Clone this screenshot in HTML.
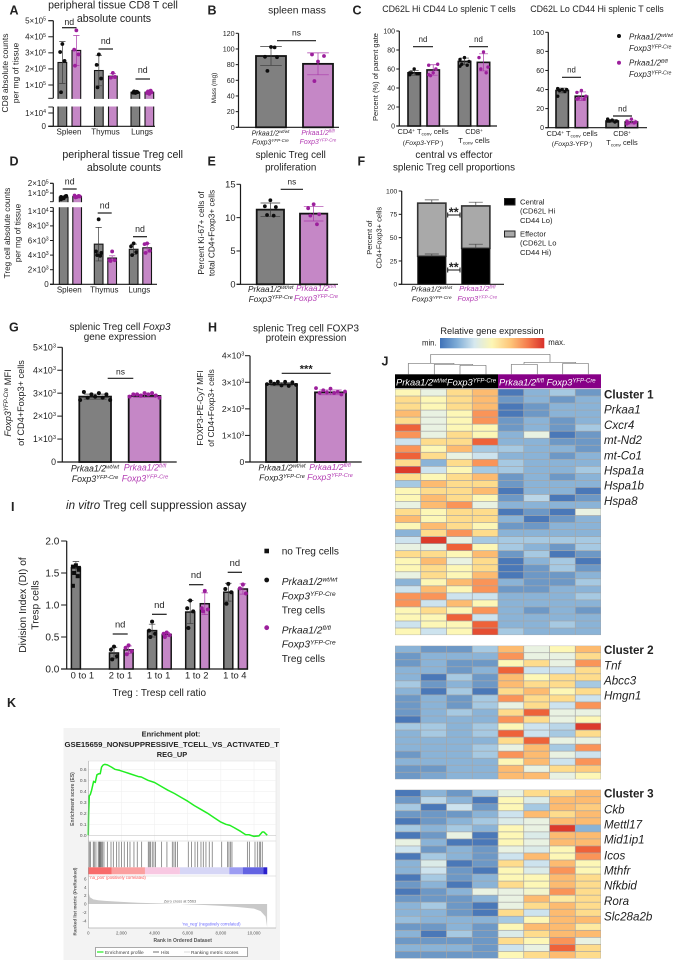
<!DOCTYPE html>
<html lang="en">
<head>
<meta charset="utf-8">
<title>Multi-panel Treg figure</title>
<style>
html,body{margin:0;padding:0;background:#fff}
#fig{position:absolute;left:0;top:0;width:674px;height:960px;overflow:hidden}
svg{display:block;filter:blur(.25px)}
text{font-family:"Liberation Sans",Arial,sans-serif;fill:#222}
.m{text-anchor:middle}
.i{font-style:italic}
.k{fill:#b23ab2}
.b{font-weight:bold}
.L{font-weight:bold;font-size:12.5px;fill:#222}
.g{font-style:italic;font-size:11.6px}
</style>
</head>
<body>
<div id="fig">
<svg width="674" height="960" viewBox="0 0 674 960" xmlns="http://www.w3.org/2000/svg">

<!-- PANEL A -->
<g id="panelA">
<text class="L" x="9.5" y="14.5">A</text>
<text class="m" x="113" y="8.5" font-size="10.6">peripheral tissue CD8 T cell</text>
<text class="m" x="114" y="22" font-size="10.6">absolute counts</text>
<text class="m" transform="translate(8,73) rotate(-90)" font-size="8.5">CD8 absolute counts</text>
<text class="m" transform="translate(18.5,73) rotate(-90)" font-size="8.5">per mg of tissue</text>
</g>

<!-- PANEL B -->
<g id="panelB">
<text class="L" x="207.5" y="14.5">B</text>
<text class="m" x="297" y="13.5" font-size="10.3">spleen mass</text>
<text class="m" transform="translate(216,88) rotate(-90)" font-size="6.5">Mass (mg)</text>
<text class="i m" x="270.5" y="135.5" font-size="6.9">Prkaa1/2<tspan dy="-2.4" font-size="4.5">wt/wt</tspan></text>
<text class="i m" x="270.5" y="144.5" font-size="6.9">Foxp3<tspan dy="-2.4" font-size="4.5">YFP-Cre</tspan></text>
<text class="i m k" x="318" y="135" font-size="6.9">Prkaa1/2<tspan dy="-2.4" font-size="4.5">fl/fl</tspan></text>
<text class="i m k" x="318" y="144" font-size="6.9">Foxp3<tspan dy="-2.4" font-size="4.5">YFP-Cre</tspan></text>
</g>

<!-- PANEL C -->
<g id="panelC1">
<text class="L" x="352.5" y="14.5">C</text>
<text class="m" x="449" y="12" font-size="8.9">CD62L Hi CD44 Lo splenic T cells</text>
<text class="m" transform="translate(378,77) rotate(-90)" font-size="7.5">Percent (%) of parent gate</text>
<text class="m" x="423" y="134" font-size="7.4">CD4<tspan dy="-2.2" font-size="4.8">+</tspan><tspan dy="2.2"> T</tspan><tspan dy="1.3" font-size="4.8">conv</tspan><tspan dy="-1.3"> cells</tspan></text>
<text class="m" x="423" y="145" font-size="6.8">(<tspan class="i">Foxp3</tspan>-YFP<tspan dy="-2" font-size="4.5">-</tspan><tspan dy="2">)</tspan></text>
<text class="m" x="474" y="134" font-size="7.4">CD8<tspan dy="-2.2" font-size="4.8">+</tspan></text>
<text class="m" x="474" y="143" font-size="7.4">T<tspan dy="1.3" font-size="4.8">conv</tspan><tspan dy="-1.3"> cells</tspan></text>
</g>
<g id="panelC2">
<text class="m" x="597" y="12" font-size="8.9">CD62L Lo CD44 Hi splenic T cells</text>
<text class="m" x="572" y="136" font-size="7.4">CD4<tspan dy="-2.2" font-size="4.8">+</tspan><tspan dy="2.2"> T</tspan><tspan dy="1.3" font-size="4.8">conv</tspan><tspan dy="-1.3"> cells</tspan></text>
<text class="m" x="572" y="146" font-size="6.8">(<tspan class="i">Foxp3</tspan>-YFP<tspan dy="-2" font-size="4.5">-</tspan><tspan dy="2">)</tspan></text>
<text class="m" x="622" y="136" font-size="7.4">CD8<tspan dy="-2.2" font-size="4.8">+</tspan></text>
<text class="m" x="622" y="145" font-size="7.4">T<tspan dy="1.3" font-size="4.8">conv</tspan><tspan dy="-1.3"> cells</tspan></text>
<circle cx="619" cy="36" r="2" fill="#111"/>
<text class="i" x="629" y="39.5" font-size="8">Prkaa1/2<tspan dy="-2.6" font-size="5.2">wt/wt</tspan></text>
<text class="i" x="629" y="51" font-size="8">Foxp3<tspan dy="-2.6" font-size="5.2">YFP-Cre</tspan></text>
<circle cx="619" cy="62.7" r="2" fill="#9c1f9c"/>
<text class="i" x="629" y="65.5" font-size="8">Prkaa1/2<tspan dy="-2.6" font-size="5.2">fl/fl</tspan></text>
<text class="i" x="629" y="77" font-size="8">Foxp3<tspan dy="-2.6" font-size="5.2">YFP-Cre</tspan></text>
</g>

<!-- PANEL D -->
<g id="panelD">
<text class="L" x="9.5" y="165.5">D</text>
<text class="m" x="122.7" y="158" font-size="10.6">peripheral tissue Treg cell</text>
<text class="m" x="124" y="171" font-size="10.6">absolute counts</text>
<text class="m" transform="translate(10,233) rotate(-90)" font-size="8.2">Treg cell absolute counts</text>
<text class="m" transform="translate(20.5,233) rotate(-90)" font-size="8.2">per mg of tissue</text>
</g>

<!-- PANEL E -->
<g id="panelE">
<text class="L" x="207.5" y="165.5">E</text>
<text class="m" x="290.7" y="158" font-size="9.8">splenic Treg cell</text>
<text class="m" x="290.7" y="170.5" font-size="9.8">proliferation</text>
<text class="m" transform="translate(204,233) rotate(-90)" font-size="8.3">Percent Ki-67+ cells of</text>
<text class="m" transform="translate(214.5,233) rotate(-90)" font-size="8.3">total CD4+Foxp3+ cells</text>
<text class="i m" x="270.7" y="292" font-size="8.3">Prkaa1/2<tspan dy="-2.8" font-size="5.4">wt/wt</tspan></text>
<text class="i m" x="270.7" y="302" font-size="8.3">Foxp3<tspan dy="-2.8" font-size="5.4">YFP-Cre</tspan></text>
<text class="i m k" x="316" y="291" font-size="8.3">Prkaa1/2<tspan dy="-2.8" font-size="5.4">fl/fl</tspan></text>
<text class="i m k" x="316" y="301" font-size="8.3">Foxp3<tspan dy="-2.8" font-size="5.4">YFP-Cre</tspan></text>
</g>

<!-- PANEL F -->
<g id="panelF">
<text class="L" x="357.5" y="165.5">F</text>
<text class="m" x="454" y="158" font-size="9.8">central vs effector</text>
<text class="m" x="454" y="170.5" font-size="9.8">splenic Treg cell proportions</text>
<text class="m" transform="translate(372,237.7) rotate(-90)" font-size="7.5">Percent of</text>
<text class="m" transform="translate(381.5,237.7) rotate(-90)" font-size="7.5">CD4+Foxp3+ cells</text>
<text class="i m" x="431.7" y="291.5" font-size="7.5">Prkaa1/2<tspan dy="-2.6" font-size="4.9">wt/wt</tspan></text>
<text class="i m" x="431.7" y="301.5" font-size="7.5">Foxp3<tspan dy="-2.6" font-size="4.9">YFP-Cre</tspan></text>
<text class="i m k" x="477.3" y="291" font-size="7.5">Prkaa1/2<tspan dy="-2.6" font-size="4.9">fl/fl</tspan></text>
<text class="i m k" x="477.3" y="301" font-size="7.5">Foxp3<tspan dy="-2.6" font-size="4.9">YFP-Cre</tspan></text>
<rect x="504.5" y="198.5" width="10.5" height="6.5" fill="#000" stroke="#222" stroke-width="1"/>
<text x="520" y="204.3" font-size="7.6">Central</text>
<text x="520" y="213.7" font-size="7.6">(CD62L Hi</text>
<text x="520" y="223" font-size="7.6">CD44 Lo)</text>
<rect x="504.5" y="231" width="10.5" height="6" fill="#a9a9a9" stroke="#222" stroke-width="1"/>
<text x="520" y="236.3" font-size="7.6">Effector</text>
<text x="520" y="245.7" font-size="7.6">(CD62L Lo</text>
<text x="520" y="255" font-size="7.6">CD44 Hi)</text>
</g>

<!-- PANEL G -->
<g id="panelG">
<text class="L" x="9" y="331.5">G</text>
<text class="m" x="120" y="330" font-size="9.9">splenic Treg cell <tspan class="i">Foxp3</tspan></text>
<text class="m" x="120" y="340" font-size="9.9">gene expression</text>
<text class="m i" transform="translate(11,403) rotate(-90)" font-size="9.2">Foxp3<tspan dy="-3" font-size="6">YFP-Cre</tspan><tspan dy="3" font-style="normal"> MFI</tspan></text>
<text class="m" transform="translate(24,403) rotate(-90)" font-size="9.2">of CD4+Foxp3+ cells</text>
<text class="i m" x="95" y="471.5" font-size="8.8">Prkaa1/2<tspan dy="-3" font-size="5.7">wt/wt</tspan></text>
<text class="i m" x="95" y="482" font-size="8.8">Foxp3<tspan dy="-3" font-size="5.7">YFP-Cre</tspan></text>
<text class="i m k" x="145" y="470.5" font-size="8.8">Prkaa1/2<tspan dy="-3" font-size="5.7">fl/fl</tspan></text>
<text class="i m k" x="145" y="481.5" font-size="8.8">Foxp3<tspan dy="-3" font-size="5.7">YFP-Cre</tspan></text>
</g>

<!-- PANEL H -->
<g id="panelH">
<text class="L" x="208" y="331.5">H</text>
<text class="m" x="306" y="331.5" font-size="9.9">splenic Treg cell FOXP3</text>
<text class="m" x="306" y="341" font-size="9.9">protein expression</text>
<text class="m" transform="translate(203,408) rotate(-90)" font-size="8.3">FOXP3-PE-Cy7 MFI</text>
<text class="m" transform="translate(214,408) rotate(-90)" font-size="8.3">of CD4+Foxp3+ cells</text>
<text class="i m" x="282" y="470.5" font-size="8.6">Prkaa1/2<tspan dy="-2.9" font-size="5.6">wt/wt</tspan></text>
<text class="i m" x="282" y="480.7" font-size="8.6">Foxp3<tspan dy="-2.9" font-size="5.6">YFP-Cre</tspan></text>
<text class="i m k" x="330" y="470" font-size="8.6">Prkaa1/2<tspan dy="-2.9" font-size="5.6">fl/fl</tspan></text>
<text class="i m k" x="330" y="480" font-size="8.6">Foxp3<tspan dy="-2.9" font-size="5.6">YFP-Cre</tspan></text>
</g>

<!-- PANEL I -->
<g id="panelI">
<text class="L" x="11" y="511">I</text>
<text x="66" y="509" font-size="11.6"><tspan class="i">in vitro</tspan> Treg cell suppression assay</text>
<text class="m" transform="translate(26,605) rotate(-90)" font-size="10.3">Division Index (DI) of</text>
<text class="m" transform="translate(38.5,605) rotate(-90)" font-size="10.3">Tresp cells</text>
<text class="m" x="159.3" y="696" font-size="10">Treg : Tresp cell ratio</text>
<rect x="264.4" y="548.7" width="4.6" height="4.6" fill="#111"/>
<text x="281.7" y="554.5" font-size="10.1">no Treg cells</text>
<circle cx="266.7" cy="580" r="2.4" fill="#111"/>
<text class="i" x="281.7" y="585" font-size="10.2">Prkaa1/2<tspan dy="-3.4" font-size="6.6">wt/wt</tspan></text>
<text class="i" x="281.7" y="599.3" font-size="10.2">Foxp3<tspan dy="-3.4" font-size="6.6">YFP-Cre</tspan></text>
<text x="281.7" y="613.5" font-size="10.1">Treg cells</text>
<circle cx="266.7" cy="627.7" r="2.4" fill="#9c1f9c"/>
<text class="i" x="281.7" y="633.3" font-size="10.2">Prkaa1/2<tspan dy="-3.4" font-size="6.6">fl/fl</tspan></text>
<text class="i" x="281.7" y="647.7" font-size="10.2">Foxp3<tspan dy="-3.4" font-size="6.6">YFP-Cre</tspan></text>
<text x="281.7" y="661.8" font-size="10.1">Treg cells</text>
</g>

<!-- PANEL K -->
<g id="panelK">
<text class="L" x="7" y="707">K</text>
<rect x="63.5" y="728" width="216.5" height="232" fill="#f3f3f3"/>
<text class="b m" x="171" y="736.5" font-size="7.4">Enrichment plot:</text>
<text class="b" x="64.5" y="747" font-size="7.4" textLength="214.5" lengthAdjust="spacingAndGlyphs">GSE15659_NONSUPPRESSIVE_TCELL_VS_ACTIVATED_T</text>
<text class="b m" x="172" y="757" font-size="7.4">REG_UP</text>
<rect x="88.3" y="761" width="187.7" height="167" fill="#fff" stroke="#ddd" stroke-width=".5"/>
<text class="m b" transform="translate(74,799) rotate(-90)" font-size="5" fill="#555" style="fill:#555">Enrichment score (ES)</text>
<text class="m b" transform="translate(76.5,901.5) rotate(-90)" font-size="4.6" style="fill:#555">Ranked list metric (PreRanked)</text>
<text class="m b" x="182.7" y="942" font-size="5" style="fill:#555">Rank in Ordered Dataset</text>
<text class="m" x="180" y="902.4" font-size="3.9" style="fill:#666">Zero cross at 5563</text>
<text x="89.5" y="878.8" font-size="4.2" style="fill:#f55">'na_pos' (positively correlated)</text>
<text x="182.3" y="925.3" font-size="4.2" style="fill:#66f">'na_neg' (negatively correlated)</text>
<rect x="95.7" y="947.3" width="151.6" height="9.4" fill="#fff" stroke="#555" stroke-width=".5"/>
<line x1="97" y1="952" x2="103.5" y2="952" stroke="#22ee22" stroke-width="1.2"/>
<text x="105" y="953.8" font-size="4.8" style="fill:#444">Enrichment profile</text>
<line x1="153" y1="952" x2="159" y2="952" stroke="#333" stroke-width=".7"/>
<text x="161" y="953.8" font-size="4.8" style="fill:#444">Hits</text>
<line x1="184" y1="952" x2="190" y2="952" stroke="#ccc" stroke-width=".7"/>
<text x="191" y="953.8" font-size="4.8" style="fill:#444">Ranking metric scores</text>
</g>

<!-- PANEL J -->
<g id="panelJ">
<defs><linearGradient id="heatGrad" x1="0" x2="1" y1="0" y2="0">
<stop offset="0" stop-color="#3f72b8"/><stop offset=".16" stop-color="#7dabd6"/><stop offset=".33" stop-color="#d6e8ef"/><stop offset=".5" stop-color="#fdf6b4"/><stop offset=".68" stop-color="#fdc478"/><stop offset=".85" stop-color="#f4774a"/><stop offset="1" stop-color="#d8302b"/>
</linearGradient></defs>
<text class="L" x="381.5" y="365.5">J</text>
<text class="m" x="492" y="334" font-size="9.2">Relative gene expression</text>
<rect x="440" y="338" width="104.3" height="10.3" fill="url(#heatGrad)"/>
<text x="436.7" y="345.5" font-size="7.8" text-anchor="end">min.</text>
<text x="548.3" y="345" font-size="7.8">max.</text>
<path d="M430.7 354.3H550M430.7 354.3V363.3M408.3 363.3H454M408.3 363.3V374.3M454 363.3V364.3M434.3 364.3H472.7M434.3 364.3V374.3M472.7 364.3V365.3M460 365.3H486M460 365.3V374.3M486 365.3V374.3M550 354.3V362.3M524 362.3H575.7M524 362.3V364.3M511.3 364.3H537.3M511.3 364.3V374.3M537.3 364.3V374.3M575.7 362.3V363.3M562.7 363.3H588.3M562.7 363.3V374.3M588.3 363.3V374.3" fill="none" stroke="#777" stroke-width=".7"/>
<rect x="395" y="374.3" width="103" height="14" fill="#000"/>
<rect x="498" y="374.3" width="103" height="14" fill="#870087"/>
<text class="i" x="396" y="385.7" font-size="9.3" style="fill:#fff">Prkaa1/2<tspan dy="-3" font-size="6">wt/wt</tspan><tspan dy="3">Foxp3</tspan><tspan dy="-3" font-size="6">YFP-Cre</tspan></text>
<text class="i" x="499" y="385.7" font-size="9.3" style="fill:#fff">Prkaa1/2<tspan dy="-3" font-size="6">fl/fl</tspan><tspan dy="3"> Foxp3</tspan><tspan dy="-3" font-size="6">YFP-Cre</tspan></text>
<text class="b" x="604" y="398.3" font-size="11.6">Cluster 1</text>
<text class="g" x="604" y="413.3">Prkaa1</text>
<text class="g" x="604" y="429">Cxcr4</text>
<text class="g" x="604" y="444">mt-Nd2</text>
<text class="g" x="604" y="459.3">mt-Co1</text>
<text class="g" x="604" y="474.3">Hspa1a</text>
<text class="g" x="604" y="489.7">Hspa1b</text>
<text class="g" x="604" y="505">Hspa8</text>
<text class="b" x="604" y="654" font-size="11.6">Cluster 2</text>
<text class="g" x="604" y="669.3">Tnf</text>
<text class="g" x="604" y="684.3">Abcc3</text>
<text class="g" x="604" y="699.7">Hmgn1</text>
<text class="b" x="604" y="797.7" font-size="11.6">Cluster 3</text>
<text class="g" x="604" y="813.3">Ckb</text>
<text class="g" x="604" y="828.3">Mettl17</text>
<text class="g" x="604" y="843.7">Mid1ip1</text>
<text class="g" x="604" y="859.3">Icos</text>
<text class="g" x="604" y="874.3">Mthfr</text>
<text class="g" x="604" y="889.7">Nfkbid</text>
<text class="g" x="604" y="905">Rora</text>
<text class="g" x="604" y="920.3">Slc28a2b</text>
</g>
</svg>
</div>

<script>
/* ---------- chart data ---------- */
const tissueCategories = ['Spleen', 'Thymus', 'Lungs'];
const cellCategories = ['CD4', 'CD8'];
const genotypeCategories = ['wt', 'ko'];
const ratioCategories = ['0 to 1', '2 to 1', '1 to 1', '1 to 2', '1 to 4'];

/* A */
const aTicks = [0, 1e4, 1e5, 2e5, 3e5, 4e5, 5e5];
const aWtMeans = [2.4e5, 1.9e5, 0.55e5];
const aKoMeans = [3.15e5, 1.55e5, 0.55e5];
const aWtErr = [1.3e5, 0.95e5, 0.05e5];
const aKoErr = [0.93e5, 0.15e5, 0.08e5];
const aWtPoints = [[3.55e5, 3.05e5, 2.5e5, 0.55e5], [2.9e5, 2.25e5, 1.4e5, 0.85e5], [0.5e5, 0.52e5, 0.55e5, 0.6e5, 0.58e5]];
const aKoPoints = [[4.4e5, 3.2e5, 2.9e5, 2.2e5], [1.75e5, 1.45e5, 1.5e5], [0.45e5, 0.5e5, 0.55e5, 0.6e5, 0.65e5, 0.52e5]];

/* B */
const bTicks = [0, 20, 40, 60, 80, 100, 120];
const bWtMeans = [91];
const bKoMeans = [81];
const bWtErr = [12];
const bKoErr = [14];
const bWtPoints = [[102.5, 90, 89.5, 72, 102]];
const bKoPoints = [[84, 93, 91, 59]];

/* C left */
const c1Ticks = [0, 20, 40, 60, 80, 100];
const c1WtMeans = [56, 68];
const c1KoMeans = [59, 67];
const c1WtErr = [2.5, 3.5];
const c1KoErr = [5.5, 9];
const c1WtPoints = [[60, 56, 55, 56, 55, 54], [72, 70, 68, 65, 64, 63]];
const c1KoPoints = [[56, 64, 65, 53, 60, 54], [78, 72, 62, 60, 56]];

/* C right */
const c2Ticks = [0, 20, 40, 60, 80, 100];
const c2WtMeans = [39, 7];
const c2KoMeans = [33, 6];
const c2WtErr = [2.5, 1.5];
const c2KoErr = [4.5, 2];
const c2WtPoints = [[40, 41, 40, 39, 38, 33], [8, 9, 7, 7, 6, 7]];
const c2KoPoints = [[39, 37, 33, 31, 30, 30], [9, 7, 6, 5, 5, 4]];

/* D */
const dTicks = [0, 2e3, 4e3, 6e3, 8e3, 1e4, 1e5, 2e5];
const dWtMeans = [0.58e5, 5.5e3, 4.8e3];
const dKoMeans = [0.65e5, 3.6e3, 5e3];
const dWtErr = [0.1e5, 2.3e3, 0.7e3];
const dKoErr = [0.07e5, 0.3e3, 0.6e3];
const dWtPoints = [[0.45e5, 0.6e5, 0.7e5, 0.5e5, 0.65e5, 0.35e5], [8.9e3, 4.5e3, 4.3e3, 4e3, 3.9e3], [5.6e3, 5.2e3, 4.4e3, 4e3]];
const dKoPoints = [[0.6e5, 0.75e5, 0.65e5, 0.55e5, 0.7e5], [4.5e3, 3.3e3, 3.3e3, 3.2e3], [5.6e3, 5.5e3, 4.6e3, 4.3e3]];

/* E */
const eTicks = [0, 5, 10, 15];
const eWtMeans = [11.2];
const eKoMeans = [10.6];
const eWtErr = [1];
const eKoErr = [1.1];
const eWtPoints = [[12.6, 11.7, 11.6, 10.4, 10.3]];
const eKoPoints = [[12, 11.4, 10.5, 10.3, 9]];

/* F */
const fTicks = [0, 25, 50, 75, 100];
const fCentralMeans = [30, 38.5];
const fTotalMeans = [87, 84];
const fCentralErr = [2.5, 4.5];
const fTotalErr = [3.5, 4];

/* G */
const gTicks = [0, 1e3, 2e3, 3e3, 4e3, 5e3];
const gWtMeans = [2850];
const gKoMeans = [2880];
const gWtErr = [110];
const gKoErr = [70];
const gWtPoints = [[2700, 3050, 2800, 2950, 2850, 3000, 2800, 2950, 2700]];
const gKoPoints = [[2850, 2950, 2950, 2900, 3000, 2950, 3000, 2900, 2800]];

/* H */
const hTicks = [0, 1e3, 2e3, 3e3, 4e3];
const hWtMeans = [2930];
const hKoMeans = [2620];
const hWtErr = [60];
const hKoErr = [90];
const hWtPoints = [[2930, 3030, 2950, 3020, 2880, 3020, 2860, 3000, 2900]];
const hKoPoints = [[2780, 2600, 2700, 2620, 2760, 2600, 2640, 2540, 2650]];

/* I */
const iTicks = [0, 0.5, 1, 1.5, 2];
const iNoTregMeans = [1.58, null, null, null, null];
const iNoTregErr = [0.1, null, null, null, null];
const iNoTregPoints = [[1.62, 1.6, 1.55, 1.5, 1.45, 1.3, 1.58], [], [], [], []];
const iWtMeans = [null, 0.25, 0.6, 0.89, 1.2];
const iKoMeans = [null, 0.3, 0.54, 1.02, 1.25];
const iWtErr = [null, 0.09, 0.1, 0.18, 0.14];
const iKoErr = [null, 0.06, 0.03, 0.17, 0.08];
const iWtPoints = [[], [0.35, 0.3, 0.2, 0.15], [0.74, 0.6, 0.55, 0.5], [1.07, 0.95, 0.9, 0.64], [1.33, 1.25, 1.2, 1.02]];
const iKoPoints = [[], [0.37, 0.33, 0.28, 0.23], [0.57, 0.55, 0.53, 0.5], [1.22, 0.95, 0.93, 0.9], [1.32, 1.26, 1.18]];

/* J: heat level 0 (deep blue) .. 11 (red); rows top-to-bottom, four wt then four fl/fl columns */
const heatCluster1 = [
[6,5,7,8,0,2,3,1],[7,6,7,8,1,2,1,2],[7,6,7,8,0,1,2,2],[8,5,6,9,0,1,2,2],[7,5,6,9,1,2,1,2],
[10,5,6,6,1,2,1,3],[9,5,7,6,2,5,0,1],[4,7,7,10,2,2,1,1],[9,6,8,3,3,2,2,1],[10,7,5,4,2,2,1,2],
[7,2,7,9,3,2,2,2],[11,4,6,3,3,2,2,3],[7,6,7,8,1,2,1,2],[3,8,7,7,1,2,2,2],[6,7,7,8,0,2,2,0],
[6,8,7,6,1,3.5,0,1],[5,8,9,5,2,2,2,2],[7,6,7,7,0,1,0,5],[8,6,7,7,2,0,1,2],[6,8,7,6,1,1,2,2],
[2,7,9,7,2,2,2,2],[4,11,5,3,3,3,3,3],[5,5,10,6,3,2,1,3],[7,7,6,8,1,3,0,1],[6,8,5,7,0,2,3,0],
[6,7,6,7,0,1,3,1],[5,7,6,8,0,1,1,2],[2,6,8,9,2,1,1,3],[4,8,6,9,1,1,2,2],[9,9,4,4,2,2,2,3],
[9,4,8,6,2,2,2,2],[6,7,6,9,2,1,2,1],[6,6,10,4,2,2,2,2],[4,6,6,10,2,2,3,2],[6,4,6,10.5,3,2,2,2]
];
const heatCluster2 = [
[2,1,1,3,8,5,6,8],[1,2,2,2,9,5,5,7],[1,2,1,1,6,7,5,9],[2,2,1,2,10,4,4,7],[2,0,3,1,8,6,7,7],
[3,1,2,1,8,7,7,3],[2,0,3,0,7,8,6,7],[1,2,1,3,9,7,7,4],[1,2,1,3,5,7,4,9],[1,2,3,2,7,10,5,5],
[0,2,2,2,9,7,5,6],[3,3,2,3,6,4,3.5,11],[2,3,2,3,10,4,3,7],[2,2,2,2,7,10,5,5],[2,2,2,3,5,8,3,9],
[1,2,2,3,9,8,5,4],[2,2,2,2,6,8,4,9],[1,1,2,2,8,5,7,7.5],[1,1.5,2,2,8,8,5,6]
];
const heatCluster3 = [
[0,2,1,3,5,7,7,8],[1,3.5,2,0,6,4.5,8,8],[3,0,4,1,6,3,8,7.5],[1,1,1,2,4,8,7,8],[0,1,2,3,4.5,5,8,8],
[3,2,3,2,6,5,11,2],[0,1,5,0,6,4.5,8,8],[5,2,0,0,6,5,8,8],[4,1,2,1,5,4.5,6,10],[0,3,2,1,4,8,6,9],
[2,4.5,0,1,7,4,8,6],[2,4,1,0,6,4.5,9,6],[0,3,1,2,6,6,8,7],[1,2,0,2,7,6,8,7],[0,1,2,5,5,5.5,9,7],
[1,1,1,2,5,8,6.5,7],[2,3,1,0,5,7,8,7],[2,2,1,0,7,4,8,7],[2.5,2,2,2,3,6,8,8],[1,1,2,1,6,8,8,6.5],
[2,0,3,1,4.5,7,8,8],[1,1,1,1,7,6,9,5],[2,2,2,1,4,5,10,7],[1,1,1,1,6,7,8,7]
];

/* K */
const esRanks = [0,20,60,120,200,320,420,520,640,720,800,900,1000,1150,1400,1600,1900,2200,2600,3000,3200,3600,4000,4400,4800,5200,5600,6000,6400,6800,7200,7600,8000,8300,8550,8800,9200,9500,9700,10000,10300,10500,10600,10800];
const esScores = [0,0.2,0.36,0.37,0.41,0.49,0.48,0.55,0.56,0.56,0.62,0.64,0.645,0.64,0.62,0.6,0.59,0.575,0.555,0.535,0.53,0.5,0.48,0.445,0.41,0.38,0.345,0.31,0.27,0.235,0.2,0.16,0.12,0.1,0.09,0.07,0.035,0.005,0.005,-0.01,-0.005,0.03,0.03,0];
const hitRanks = [60,140,300,360,460,600,660,700,740,800,865,945,1150,1370,1510,1710,1850,2010,2170,2370,2515,2755,2955,3220,3620,3680,3760,3860,3960,4060,4425,4745,5070,5170,5270,5390,6035,6235,6440,6600,6800,6940,7100,7300,7480,8050,8410,8490,8590,8670,9600,9720,10060,10200,10320,10400,10500];
const metricRanks = [0,30,100,300,600,1000,2000,3000,4000,5000,5563,6000,7000,8000,9000,10000,10400,10700,10790];
const metricValues = [6.2,2.5,1.6,1.1,0.9,0.75,0.5,0.3,0.18,0.06,0,-0.08,-0.25,-0.45,-0.7,-1.1,-1.7,-3,-5.5];
const esTicks = [0,0.1,0.2,0.3,0.4,0.5,0.6];
const metricTicks = [6,4,2,0,-2,-4];
const rankTicks = [0,2000,4000,6000,8000,10000];

/* ---------- helpers ---------- */
const NS = 'http://www.w3.org/2000/svg';
function mk(tag, attrs, parent) {
  const e = document.createElementNS(NS, tag);
  for (const k in attrs) e.setAttribute(k, attrs[k]);
  parent.appendChild(e);
  return e;
}
function piecewise(stops, v) {
  for (let i = 1; i < stops.length; i++) {
    if (v <= stops[i][0] || i === stops.length - 1) {
      const a = stops[i - 1], b = stops[i];
      return a[1] + (v - a[0]) / (b[0] - a[0]) * (b[1] - a[1]);
    }
  }
}
function writeTickLabel(t, v, fmt, size) {
  if (fmt === 'sci' && v !== 0) {
    const ex = Math.floor(Math.log10(v) + 1e-9);
    const man = Math.round(v / Math.pow(10, ex));
    t.appendChild(document.createTextNode(man + '\u00d710'));
    const s = mk('tspan', {dy: -size * 0.35, 'font-size': size * 0.65}, t);
    s.textContent = String(ex);
  } else if (fmt === 'fixed') {
    t.textContent = v.toFixed(1);
  } else {
    t.textContent = String(v);
  }
}
const JITTER = [0, -1, 1, -0.6, 0.6, -1, 1, -0.3, 0.3];
const WT_FILL = '#808080', KO_FILL = '#c587c6', WT_DOT = '#0d0d0d', KO_DOT = '#9c1f9c';

function drawAxes(p, g, y) {
  const ax = p.axisX;
  const tl = p.tickLen || 3.5;
  const gapL = p.labelGap || 5;
  const segs = p.axisSegments || [[p.ticks[0], p.ticks[p.ticks.length - 1]]];
  segs.forEach(function (s) {
    const l = mk('line', {x1: ax, x2: ax, y1: y(s[0]), y2: y(s[1]), stroke: '#1a1a1a', 'stroke-width': 1.2}, g);
    
    
    (p.breakTicks ? s : []).forEach(function (b) {
      const bt = mk('line', {x1: ax - tl, x2: ax, y1: y(b), y2: y(b), stroke: '#1a1a1a', 'stroke-width': 0.9}, g);
      
      
    });
  });
  const xl = mk('line', {x1: ax - tl, x2: p.axisEnd, y1: p.baseY, y2: p.baseY, stroke: '#1a1a1a', 'stroke-width': 1.2}, g);
  
  
  p.ticks.forEach(function (v) {
    const ty = y(v);
    const tk = mk('line', {x1: ax - tl, x2: ax, y1: ty, y2: ty, stroke: '#1a1a1a', 'stroke-width': 1}, g);
    
    
    const t = mk('text', {x: ax - gapL, y: ty + p.tickSize * 0.35, 'text-anchor': 'end', 'font-size': p.tickSize}, g);
    
    
    writeTickLabel(t, v, p.fmt, p.tickSize);
  });
}

function drawBarPanel(p) {
  const g = document.getElementById(p.id);
  const y = function (v) { return piecewise(p.stops, v); };
  drawAxes(p, g, y);
  p.series.forEach(function (s) {
    s.means.forEach(function (m, gi) {
      if (m === null) return;
      const bx = p.firstX + gi * p.groupStep + s.offset * p.barStep;
      const cx = bx + p.barW / 2;
      const bar = mk('rect', {x: bx, y: y(m), width: p.barW, height: p.baseY - y(m), fill: s.fill, stroke: '#141414', 'stroke-width': p.barStroke || 1.6}, g);
      
      
      const e = s.errs[gi];
      const cap = p.barW * 0.36;
      const eb = mk('path', {d: 'M' + cx + ' ' + y(m + e) + 'V' + y(Math.max(m - e, 0)) + 'M' + (cx - cap) + ' ' + y(m + e) + 'H' + (cx + cap) + 'M' + (cx - cap) + ' ' + y(Math.max(m - e, 0)) + 'H' + (cx + cap), fill: 'none', stroke: s.errColor, 'stroke-width': 0.7}, g);
      
      
      s.points[gi].forEach(function (v, i, arr) {
        const dx = p.even ? (i / (arr.length - 1) - 0.5) * p.jit : JITTER[i % 9] * p.jit;
        if (s.square) {
          const q = mk('rect', {x: cx + dx - p.r, y: y(v) - p.r, width: 2 * p.r, height: 2 * p.r, fill: s.dot}, g);
          
          
        } else {
          const c = mk('circle', {cx: cx + dx, cy: y(v), r: p.r, fill: s.dot}, g);
          
          
        }
      });
    });
  });
  if (p.gap) {
    const w = mk('rect', {x: p.axisX + 0.6, y: p.gap[0], width: p.axisEnd - p.axisX, height: p.gap[1] - p.gap[0], fill: '#fff'}, g);
    
    
  }
  if (p.cats) {
    p.cats.forEach(function (c, i) {
      const t = mk('text', {x: p.firstX + i * p.groupStep + p.catShift, y: p.catY, 'text-anchor': 'middle', 'font-size': p.catSize}, g);
      
      
      t.textContent = c;
    });
  }
  (p.notes || []).forEach(function (n) {
    const b = mk('line', {x1: n.x1, x2: n.x2, y1: n.y, y2: n.y, stroke: '#1a1a1a', 'stroke-width': 1.2}, g);
    
    
    const t = mk('text', {x: (n.x1 + n.x2) / 2, y: n.y - (n.lift || 4.7), 'text-anchor': 'middle', 'font-size': n.size || p.noteSize || 8.8, 'font-weight': n.bold ? 'bold' : 'normal'}, g);
    
    
    t.textContent = n.label;
  });
}

function pair(wm, ke, we, kme, wp, kp) {
  return [
    {means: wm, errs: we, points: wp, fill: WT_FILL, dot: WT_DOT, errColor: '#3a3a3a', offset: 0},
    {means: ke, errs: kme, points: kp, fill: KO_FILL, dot: KO_DOT, errColor: '#a938a9', offset: 1}
  ];
}

drawBarPanel({id: 'panelA', stops: [[0, 126.3], [1e4, 113], [1.45e4, 107], [1.72e4, 98.3], [5e5, 20.7]], ticks: aTicks, fmt: 'sci', tickSize: 8,
  axisX: 53.3, axisEnd: 155, baseY: 126.3, tickLen: 5, labelGap: 7.3, barStroke: 1.1, axisSegments: [[0, 1.45e4], [1.72e4, 5e5]], breakTicks: true, gap: [98.9, 106.5],
  firstX: 58, groupStep: 36.5, barStep: 14, barW: 8.7, r: 1.9, jit: 2.2, cats: tissueCategories, catShift: 11, catY: 134.5, catSize: 8,
  series: pair(aWtMeans, aKoMeans, aWtErr, aKoErr, aWtPoints, aKoPoints),
  notes: [{x1: 62, x2: 76.5, y: 27.7, label: 'nd', lift: 2.8}, {x1: 98.5, x2: 113, y: 49, label: 'nd', lift: 5}, {x1: 135.5, x2: 150, y: 79, label: 'nd', lift: 6}]});

drawBarPanel({id: 'panelB', stops: [[0, 127.3], [120, 33.3]], ticks: bTicks, fmt: 'plain', tickSize: 7.2,
  axisX: 238.5, axisEnd: 339, baseY: 127.3, tickLen: 2.8, labelGap: 3.8, barStroke: 1.8, firstX: 256, groupStep: 47, barStep: 47, barW: 30, r: 1.9, jit: 6,
  series: pair(bWtMeans, bKoMeans, bWtErr, bKoErr, bWtPoints, bKoPoints),
  notes: [{x1: 277, x2: 316, y: 40.7, label: 'ns', size: 8.5, lift: 5}]});

drawBarPanel({id: 'panelC1', stops: [[0, 126], [100, 31]], ticks: c1Ticks, fmt: 'plain', tickSize: 7,
  axisX: 399.3, axisEnd: 497, baseY: 126, tickLen: 3, labelGap: 4.3, firstX: 408, groupStep: 50.3, barStep: 19, barW: 12.4, r: 1.7, jit: 4.5,
  series: pair(c1WtMeans, c1KoMeans, c1WtErr, c1KoErr, c1WtPoints, c1KoPoints),
  notes: [{x1: 413, x2: 433, y: 46.7, label: 'nd', size: 7.8}, {x1: 469, x2: 488, y: 46.7, label: 'nd', size: 7.8}]});

drawBarPanel({id: 'panelC2', stops: [[0, 127.7], [100, 32.3]], ticks: c2Ticks, fmt: 'plain', tickSize: 7,
  axisX: 548.3, axisEnd: 647, baseY: 127.7, tickLen: 3, labelGap: 4.3, firstX: 556, groupStep: 50, barStep: 19.2, barW: 12.4, r: 1.7, jit: 4.5,
  series: pair(c2WtMeans, c2KoMeans, c2WtErr, c2KoErr, c2WtPoints, c2KoPoints),
  notes: [{x1: 562, x2: 581, y: 77.3, label: 'nd', size: 7.8}, {x1: 613, x2: 632, y: 116, label: 'nd', size: 7.8}]});

drawBarPanel({id: 'panelD', stops: [[0, 284.3], [1e4, 211.3], [1.05e4, 207.6], [1.1e4, 201.7], [2e5, 183.3]], ticks: dTicks, fmt: 'sci', tickSize: 8,
  axisX: 53.3, axisEnd: 157, baseY: 284.3, tickLen: 3.3, labelGap: 4.6, barStroke: 1.1, axisSegments: [[0, 1.05e4], [1.1e4, 2e5]], breakTicks: true, gap: [202.2, 207.2],
  firstX: 59.3, groupStep: 35, barStep: 13.5, barW: 8.7, r: 1.9, jit: 2.6, cats: tissueCategories, catShift: 10, catY: 292.5, catSize: 8,
  series: pair(dWtMeans, dKoMeans, dWtErr, dKoErr, dWtPoints, dKoPoints),
  notes: [{x1: 62.7, x2: 76.7, y: 189, label: 'nd'}, {x1: 97.7, x2: 111.7, y: 213, label: 'nd'}, {x1: 133, x2: 147, y: 236.7, label: 'nd'}]});

drawBarPanel({id: 'panelE', stops: [[0, 284.3], [15, 184.3]], ticks: eTicks, fmt: 'plain', tickSize: 9.3,
  axisX: 240.5, axisEnd: 338, baseY: 284.3, tickLen: 4, labelGap: 5, barStroke: 1.8, firstX: 256.7, groupStep: 43.3, barStep: 43.3, barW: 27.3, r: 1.9, jit: 5.5,
  series: pair(eWtMeans, eKoMeans, eWtErr, eKoErr, eWtPoints, eKoPoints),
  notes: [{x1: 280.7, x2: 303, y: 189.3, label: 'ns', size: 8.2}]});

drawBarPanel({id: 'panelG', stops: [[0, 462], [5e3, 347.3]], ticks: gTicks, fmt: 'sci', tickSize: 8.8,
  axisX: 62.3, axisEnd: 176.7, baseY: 462, tickLen: 5, labelGap: 6.3, barStroke: 1.8, firstX: 79.3, groupStep: 49.4, barStep: 49.4, barW: 31.7, r: 2, jit: 30, even: true,
  series: pair(gWtMeans, gKoMeans, gWtErr, gKoErr, gWtPoints, gKoPoints),
  notes: [{x1: 107.7, x2: 133.3, y: 378.3, label: 'ns', size: 8.5, lift: 4}]});

drawBarPanel({id: 'panelH', stops: [[0, 462], [4e3, 355.7]], ticks: hTicks, fmt: 'sci', tickSize: 8.6,
  axisX: 250, axisEnd: 361.7, baseY: 462, tickLen: 5, labelGap: 5.7, barStroke: 1.8, firstX: 266, groupStep: 49, barStep: 49, barW: 31, r: 1.9, jit: 29, even: true,
  series: pair(hWtMeans, hKoMeans, hWtErr, hKoErr, hWtPoints, hKoPoints),
  notes: [{x1: 281.7, x2: 330.7, y: 373.3, label: '***', size: 11, bold: true, lift: 0.8}]});

drawBarPanel({id: 'panelI', stops: [[0, 669], [2, 541]], ticks: iTicks, fmt: 'fixed', tickSize: 10,
  axisX: 66.7, axisEnd: 248, baseY: 669, tickLen: 5.6, labelGap: 7.4, barStroke: 1.5, firstX: 71.4, groupStep: 38.1, barStep: 14.6, barW: 9, r: 2, jit: 3,
  cats: ratioCategories, catShift: 11, catY: 678.5, catSize: 9.4,
  series: [{means: iNoTregMeans, errs: iNoTregErr, points: iNoTregPoints, fill: WT_FILL, dot: WT_DOT, errColor: '#3a3a3a', offset: 0, square: true}]
    .concat(pair(iWtMeans, iKoMeans, iWtErr, iKoErr, iWtPoints, iKoPoints)),
  notes: [{x1: 112.7, x2: 127.7, y: 634, label: 'nd', size: 9.4, lift: 6.5}, {x1: 152, x2: 166.7, y: 614.3, label: 'nd', size: 9.4, lift: 6.5}, {x1: 189, x2: 203.3, y: 584.7, label: 'nd', size: 9.4, lift: 6.5}, {x1: 227.7, x2: 242, y: 572.3, label: 'nd', size: 9.4, lift: 6.5}]});

/* Panel F: stacked bars */
(function () {
  const p = {id: 'panelF', stops: [[0, 284.3], [100, 191]], ticks: fTicks, fmt: 'plain', tickSize: 6.8, axisX: 401.7, axisEnd: 504, baseY: 284.3, tickLen: 3, labelGap: 4.4};
  const g = document.getElementById('panelF');
  const y = function (v) { return piecewise(p.stops, v); };
  drawAxes(p, g, y);
  const barLeft = function (i) { return 417.7 + i * 44; };
  const w = 28.2;
  fTotalMeans.forEach(function (tot, i) {
    const cen = fCentralMeans[i], cx = barLeft(i) + w / 2;
    const eff = mk('rect', {x: barLeft(i), y: y(tot), width: w, height: y(cen) - y(tot), fill: '#a9a9a9', stroke: '#333', 'stroke-width': 1.6}, g);
    
    
    const et = mk('path', {d: 'M' + cx + ' ' + y(tot) + 'V' + y(tot + fTotalErr[i]) + 'M' + (cx - 7) + ' ' + y(tot + fTotalErr[i]) + 'H' + (cx + 7), fill: 'none', stroke: '#444', 'stroke-width': 0.7}, g);
    
    
    const ce = mk('rect', {x: barLeft(i), y: y(cen), width: w, height: y(0) - y(cen), fill: '#000', stroke: '#222', 'stroke-width': 1}, g);
    
    
    const ec = mk('path', {d: 'M' + cx + ' ' + y(cen) + 'V' + y(cen + fCentralErr[i]) + 'M' + (cx - 7) + ' ' + y(cen + fCentralErr[i]) + 'H' + (cx + 7), fill: 'none', stroke: '#444', 'stroke-width': 0.7}, g);
    
    
  });
  [215, 270].forEach(function (by) {
    const b = mk('path', {d: 'M447.7 ' + by + 'H460M447.7 ' + (by - 2.5) + 'V' + (by + 2.5) + 'M460 ' + (by - 2.5) + 'V' + (by + 2.5), fill: 'none', stroke: '#111', 'stroke-width': 1}, g);
    
    
    const t = mk('text', {x: 453.8, y: by + 1.5, 'text-anchor': 'middle', 'font-size': 12.5, 'font-weight': 'bold'}, g);
    
    
    t.textContent = '**';
  });
})();

/* Panel J: heatmap */
const HEAT_COLORS = ['#4a78b8','#6d98c6','#8ab3d7','#a6c9e2','#cde3ee','#e9f2e2','#fdf7b6','#fedc8c','#fdbb70','#fa9458','#ee6239','#dc3a2b'];
function heatColor(v) {
  const a = Math.max(0, Math.min(11, Math.floor(v))), b = Math.min(11, a + 1), f = v - a;
  const ch = function (c, i) { return parseInt(c.substr(1 + 2 * i, 2), 16); };
  return 'rgb(' + [0, 1, 2].map(function (i) { return Math.round(ch(HEAT_COLORS[a], i) * (1 - f) + ch(HEAT_COLORS[b], i) * f); }).join(',') + ')';
}
function drawHeat(rows, top) {
  const g = document.getElementById('panelJ');
  const cw = 25.75, rh = 7.03, left = 395;
  const bg = mk('rect', {x: left, y: top, width: cw * 8, height: rh * rows.length, fill: '#a6a6a6'}, g);
  
  
  rows.forEach(function (r, ri) {
    r.forEach(function (v, ci) {
      const c = mk('rect', {x: left + ci * cw + 0.35, y: top + ri * rh + 0.35, width: cw - 0.7, height: rh - 0.7, fill: heatColor(v)}, g);
      
      
    });
  });
}
drawHeat(heatCluster1, 389);
drawHeat(heatCluster2, 645.7);
drawHeat(heatCluster3, 789.7);

/* Panel K: GSEA */
(function () {
  const g = document.getElementById('panelK');
  const xR = function (r) { return 88.3 + r * 0.01657; };
  const yE = function (v) { return 835.3 - v * 110; };
  const yM = function (v) { return 904 - v * 4.2; };
  rankTicks.forEach(function (r) {
    const gl = mk('line', {x1: xR(r), x2: xR(r), y1: 761, y2: 841, stroke: '#eee', 'stroke-width': 0.5}, g);
    
    
    const t = mk('text', {x: xR(r), y: 934.5, 'text-anchor': 'middle', 'font-size': 4.3, style: 'fill:#555'}, g);
    
    
    t.textContent = r.toLocaleString('en-US');
  });
  esTicks.forEach(function (v) {
    const gl = mk('line', {x1: 88.3, x2: 276, y1: yE(v), y2: yE(v), stroke: v === 0 ? '#bbb' : '#eee', 'stroke-width': 0.5}, g);
    
    
    const t = mk('text', {x: 86.5, y: yE(v) + 1.7, 'text-anchor': 'end', 'font-size': 4.8, style: 'fill:#555'}, g);
    
    
    t.textContent = v.toFixed(1);
  });
  metricTicks.forEach(function (v) {
    const t = mk('text', {x: 86.5, y: yM(v) + 1.6, 'text-anchor': 'end', 'font-size': 4.5, style: 'fill:#555'}, g);
    
    
    t.textContent = String(v);
  });
  const sep = mk('path', {d: 'M88.3 841H276M88.3 876H276', stroke: '#ccc', 'stroke-width': 0.5, fill: 'none'}, g);
  
  
  const es = mk('polyline', {points: esRanks.map(function (r, i) { return xR(r) + ',' + yE(esScores[i]); }).join(' '), fill: 'none', stroke: '#22ee22', 'stroke-width': 1.5, 'stroke-linejoin': 'round'}, g);
  
  
  hitRanks.forEach(function (r) {
    const h = mk('line', {x1: xR(r), x2: xR(r), y1: 841.7, y2: 867.3, stroke: '#222', 'stroke-opacity': 0.6, 'stroke-width': 0.8}, g);
    
    
  });
  [[0, 1400, '#f86a6a'], [1400, 3420, '#fba0a0'], [3420, 5530, '#f8c8e2'], [5530, 8510, '#d6d6f6'], [8510, 9320, '#9c9cf2'], [9320, 10570, '#6363e2'], [10570, 10800, '#2a1fcc']].forEach(function (b) {
    const s = mk('rect', {x: xR(b[0]), y: 867.3, width: xR(b[1]) - xR(b[0]), height: 7, fill: b[2]}, g);
    
    
  });
  const pts = metricRanks.map(function (r, i) { return xR(r) + ',' + yM(metricValues[i]); });
  const area = mk('polygon', {points: xR(0) + ',' + yM(0) + ' ' + pts.join(' ') + ' ' + xR(10790) + ',' + yM(0), fill: '#c9c9c9'}, g);
  
  
  const ax = mk('path', {d: 'M88.3 761V928H276', fill: 'none', stroke: '#999', 'stroke-width': 0.5}, g);
  
  
})();
</script>
</body>
</html>
